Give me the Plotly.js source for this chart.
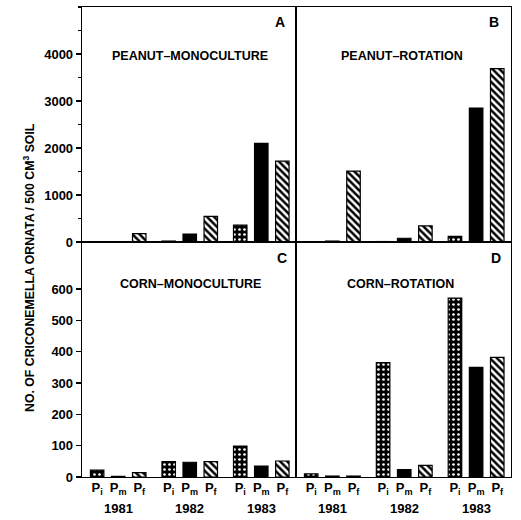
<!DOCTYPE html>
<html>
<head>
<meta charset="utf-8">
<script src="https://cdn.plot.ly/plotly-3.0.1.min.js"></script>
<style>html,body{margin:0;padding:0;background:#fff}#chart{width:521px;height:520px}</style>
</head>
<body>
<div id="chart"></div>
<script>
// ---- data ----
const years = ['1981', '1982', '1983'];
const stages = ['P<sub>i</sub>', 'P<sub>m</sub>', 'P<sub>f</sub>'];
const panelLetters = ['A', 'B', 'C', 'D'];
const panelTitles = ['PEANUT\u2013MONOCULTURE', 'PEANUT\u2013ROTATION', 'CORN\u2013MONOCULTURE', 'CORN\u2013ROTATION'];
// values per panel: Pi, Pm, Pf for 1981, 1982, 1983
const peanutMonoPi = [0, 20, 360];
const peanutMonoPm = [0, 170, 2100];
const peanutMonoPf = [180, 545, 1720];
const peanutRotPi = [5, 10, 120];
const peanutRotPm = [20, 80, 2850];
const peanutRotPf = [1510, 345, 3690];
const cornMonoPi = [22, 49, 99];
const cornMonoPm = [2, 47, 35];
const cornMonoPf = [14, 49, 51];
const cornRotPi = [10, 365, 571];
const cornRotPm = [3, 24, 350];
const cornRotPf = [3, 37, 382];
const peanutTicks = [0, 1000, 2000, 3000, 4000];
const cornTicks = [0, 100, 200, 300, 400, 500, 600];

const panels = [
  [peanutMonoPi, peanutMonoPm, peanutMonoPf],
  [peanutRotPi, peanutRotPm, peanutRotPf],
  [cornMonoPi, cornMonoPm, cornMonoPf],
  [cornRotPi, cornRotPm, cornRotPf]
];

// ---- layout helpers ----
const groupStep = 3.4;
const pos = (g, k) => g * groupStep + k;
const W = 521, H = 520;
const xL = [82 / W, 296 / W], xR = [296 / W, 511 / W];
const yT = [1 - 242 / H, 1 - 7 / H], yB = [1 - 477 / H, 1 - 242 / H];
const xRange = [-0.72, 9.45];
const font = {family: 'Liberation Sans, Arial, sans-serif', size: 13, color: '#000', weight: 'bold'};

const styles = [
  {color: '#000', pattern: {shape: '.', bgcolor: '#000', fgcolor: '#fff', size: 5, solidity: 0.22, fillmode: 'replace'}},
  {color: '#000'},
  {color: '#fff', pattern: {shape: '\\', bgcolor: '#fff', fgcolor: '#000', size: 5, solidity: 0.5, fillmode: 'replace'}}
];

const traces = [];
panels.forEach((vals, p) => {
  const ax = p === 0 ? '' : String(p + 1);
  vals.forEach((series, k) => {
    const st = styles[k];
    const marker = {color: st.color, line: {color: '#000', width: 1.2}};
    if (st.pattern) marker.pattern = st.pattern;
    traces.push({
      type: 'bar',
      x: years.map((_, g) => pos(g, k)),
      y: series,
      width: 0.64,
      marker: marker,
      xaxis: 'x' + ax,
      yaxis: 'y' + ax,
      showlegend: false,
      hoverinfo: 'skip'
    });
  });
});

const tickvals = [], ticktext = [];
years.forEach((_, g) => stages.forEach((s, k) => { tickvals.push(pos(g, k)); ticktext.push(s); }));

function xaxis(domain, anchor, showLabels) {
  return {
    domain: domain, anchor: anchor, range: xRange, showgrid: false, zeroline: false,
    showline: true, mirror: true, linecolor: '#000', linewidth: 1.3,
    tickmode: 'array', tickvals: tickvals, ticktext: ticktext, showticklabels: showLabels,
    ticks: '', ticklabelstandoff: -2, tickfont: Object.assign({}, font, {size: 13}), fixedrange: true
  };
}
function yaxis(domain, anchor, range, ticks, showLabels, minor) {
  const a = {
    domain: domain, anchor: anchor, range: range, showgrid: false, zeroline: false,
    showline: true, mirror: true, linecolor: '#000', linewidth: 1.3,
    tickmode: 'array', tickvals: ticks, ticktext: ticks.map(String),
    showticklabels: showLabels, ticks: showLabels ? 'outside' : '', ticklen: 5, tickwidth: 1.2,
    tickcolor: '#000', tickfont: font, fixedrange: true
  };
  if (minor) a.minor = {dtick: minor, ticks: 'outside', ticklen: 3, tickwidth: 1.2, tickcolor: '#000'};
  return a;
}

const annotations = [];
const letterPos = [[280, 22], [494, 22], [282, 258], [496, 258]];
const titlePos = [[190, 56], [402, 56], [190, 284], [400, 284]];
panelLetters.forEach((L, i) => {
  annotations.push({text: L, xref: 'paper', yref: 'paper', x: letterPos[i][0] / W, y: 1 - letterPos[i][1] / H,
    showarrow: false, font: Object.assign({}, font, {size: 14}), xanchor: 'center', yanchor: 'middle'});
  annotations.push({text: panelTitles[i], xref: 'paper', yref: 'paper', x: titlePos[i][0] / W, y: 1 - titlePos[i][1] / H,
    showarrow: false, font: Object.assign({}, font, {size: 12.5}), xanchor: 'center', yanchor: 'middle'});
});
['x3', 'x4'].forEach(xr => {
  years.forEach((yr, g) => annotations.push({text: yr, xref: xr, yref: 'paper', x: pos(g, 1), y: 1 - 508 / H,
    showarrow: false, font: font, xanchor: 'center', yanchor: 'middle'}));
});
annotations.push({text: 'NO. OF CRICONEMELLA ORNATA / 500 CM<sup>3</sup> SOIL', xref: 'paper', yref: 'paper',
  x: 29 / W, y: 1 - 268 / H, textangle: -90, showarrow: false, font: Object.assign({}, font, {size: 12.3}),
  xanchor: 'center', yanchor: 'middle'});

const layout = {
  width: W, height: H, margin: {l: 0, r: 0, t: 0, b: 0},
  paper_bgcolor: '#fff', plot_bgcolor: '#fff', font: font, bargap: 0,
  xaxis: xaxis(xL, 'y', false),
  yaxis: yaxis(yT, 'x', [0, 5000], peanutTicks, true, 500),
  xaxis2: xaxis(xR, 'y2', false),
  yaxis2: yaxis(yT, 'x2', [0, 5000], peanutTicks, false),
  xaxis3: xaxis(xL, 'y3', true),
  yaxis3: yaxis(yB, 'x3', [0, 750], cornTicks, true),
  xaxis4: xaxis(xR, 'y4', true),
  yaxis4: yaxis(yB, 'x4', [0, 750], cornTicks, false),
  annotations: annotations
};

Plotly.newPlot('chart', traces, layout, {displayModeBar: false, staticPlot: true});
</script>
</body>
</html>
